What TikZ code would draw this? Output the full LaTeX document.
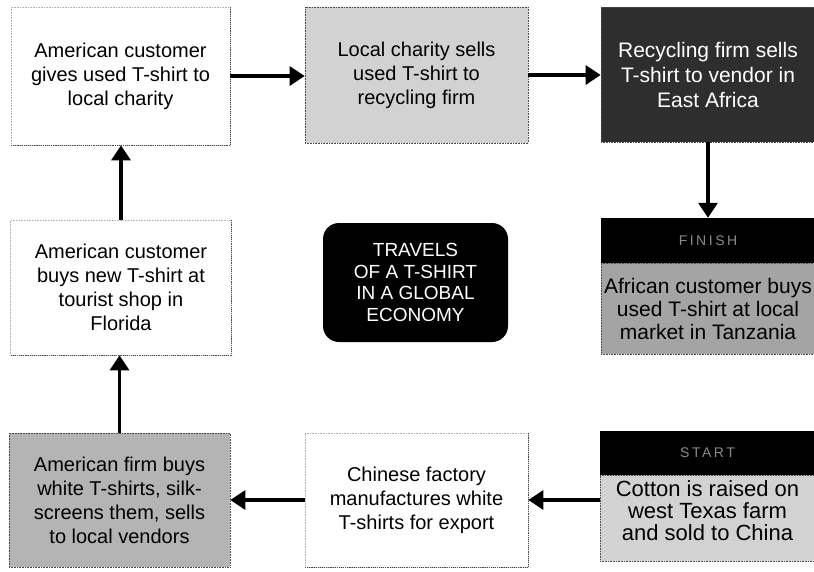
\documentclass[tikz,border=0pt]{standalone}
\usepackage{fontspec}
\setmainfont{Liberation Sans}
\usetikzlibrary{arrows.meta}
\definecolor{lightfill}{HTML}{D2D2D2}
\definecolor{midfill}{HTML}{B4B4B4}
\definecolor{darkfill}{HTML}{A4A4A4}
\definecolor{nearblack}{HTML}{2E2E2E}
\definecolor{headtext}{HTML}{8A8A8A}
\begin{document}
\begin{tikzpicture}[x=1pt,y=-1pt,
  box/.style={draw=black!30, densely dotted, line width=0.6pt, align=center,
    font=\fontsize{20}{24}\selectfont, inner sep=0pt},
  grey/.style={box, draw=black!70},
  shadowedge/.style={draw=black!70, densely dotted, line width=0.9pt},
  header/.style={fill=black, draw=black, align=center, inner sep=0pt,
    text=headtext, font=\fontsize{14}{16}\selectfont\addfontfeature{LetterSpace=18}},
  flow/.style={line width=3.2pt, -{Triangle[length=15pt,width=19pt]}}]
\useasboundingbox (0,0) rectangle (814,571);
\fill[white] (0,0) rectangle (814,571);
% top row
\node[box, minimum width=219pt, minimum height=138pt] (b1) at (120.5,76)
  {American customer\\gives used T-shirt to\\local charity};
\node[grey, fill=lightfill, minimum width=223pt, minimum height=136pt] (b2) at (416.5,75)
  {Local charity sells\\used T-shirt to\\recycling firm};
\node[grey, fill=nearblack, text=white, minimum width=214pt, minimum height=135pt,
  font=\fontsize{21}{25}\selectfont] (b3) at (708,74.5)
  {Recycling firm sells\\T-shirt to vendor in\\East Africa};
% finish
\node[header, minimum width=214pt, minimum height=45pt] (fin) at (708,240.5) {FINISH};
\node[grey, fill=darkfill, minimum width=214pt, minimum height=91pt,
  font=\fontsize{21}{23}\selectfont] (finbody) at (708,308.5)
  {African customer buys\\used T-shirt at local\\market in Tanzania};
% start
\node[header, minimum width=215pt, minimum height=44pt] (start) at (707.5,453) {START};
\node[grey, fill=lightfill, minimum width=215pt, minimum height=86pt] (startbody) at (707.5,518) {};
\node[align=center, inner sep=0pt, font=\fontsize{22}{22}\selectfont] (starttext)
  at ([yshift=7pt]startbody.center)
  {Cotton is raised on\\west Texas farm\\and sold to China};
% bottom row
\node[box, minimum width=223pt, minimum height=134pt] (chinese) at (416.5,500)
  {Chinese factory\\manufactures white\\T-shirts for export};
\node[grey, fill=midfill, minimum width=221pt, minimum height=134pt] (firm) at (119.5,500)
  {American firm buys\\white T-shirts, silk-\\screens them, sells\\to local vendors};
% left middle
\node[box, minimum width=221pt, minimum height=135pt] (buys) at (121,287.5)
  {American customer\\buys new T-shirt at\\tourist shop in\\Florida};
% darker right and bottom edges of the white boxes
\draw[shadowedge] (b1.north east) -- (b1.south east) -- (b1.south west);
\draw[shadowedge] (buys.north east) -- (buys.south east) -- (buys.south west);
\draw[shadowedge] (chinese.north east) -- (chinese.south east) -- (chinese.south west);
% centre title
\node[fill=black, rounded corners=16pt, minimum width=185pt, minimum height=119pt,
  align=center, text=white, inner sep=0pt, font=\fontsize{19}{21.7}\selectfont] (title) at (415.5,282.5)
  {TRAVELS\\OF A T-SHIRT\\IN A GLOBAL\\ECONOMY};
% connectors
\draw[flow] (b1.east) -- (b1.east -| b2.west);
\draw[flow] (b2.east) -- (b2.east -| b3.west);
\draw[flow] (b3.south) -- (fin.north);
\draw[flow] (startbody.west |- chinese.east) -- (chinese.east);
\draw[flow] (chinese.west) -- (firm.east);
\draw[flow] (firm.north) -- (firm.north |- buys.south);
\draw[flow] (buys.north) -- (buys.north |- b1.south);
\end{tikzpicture}
\end{document}
